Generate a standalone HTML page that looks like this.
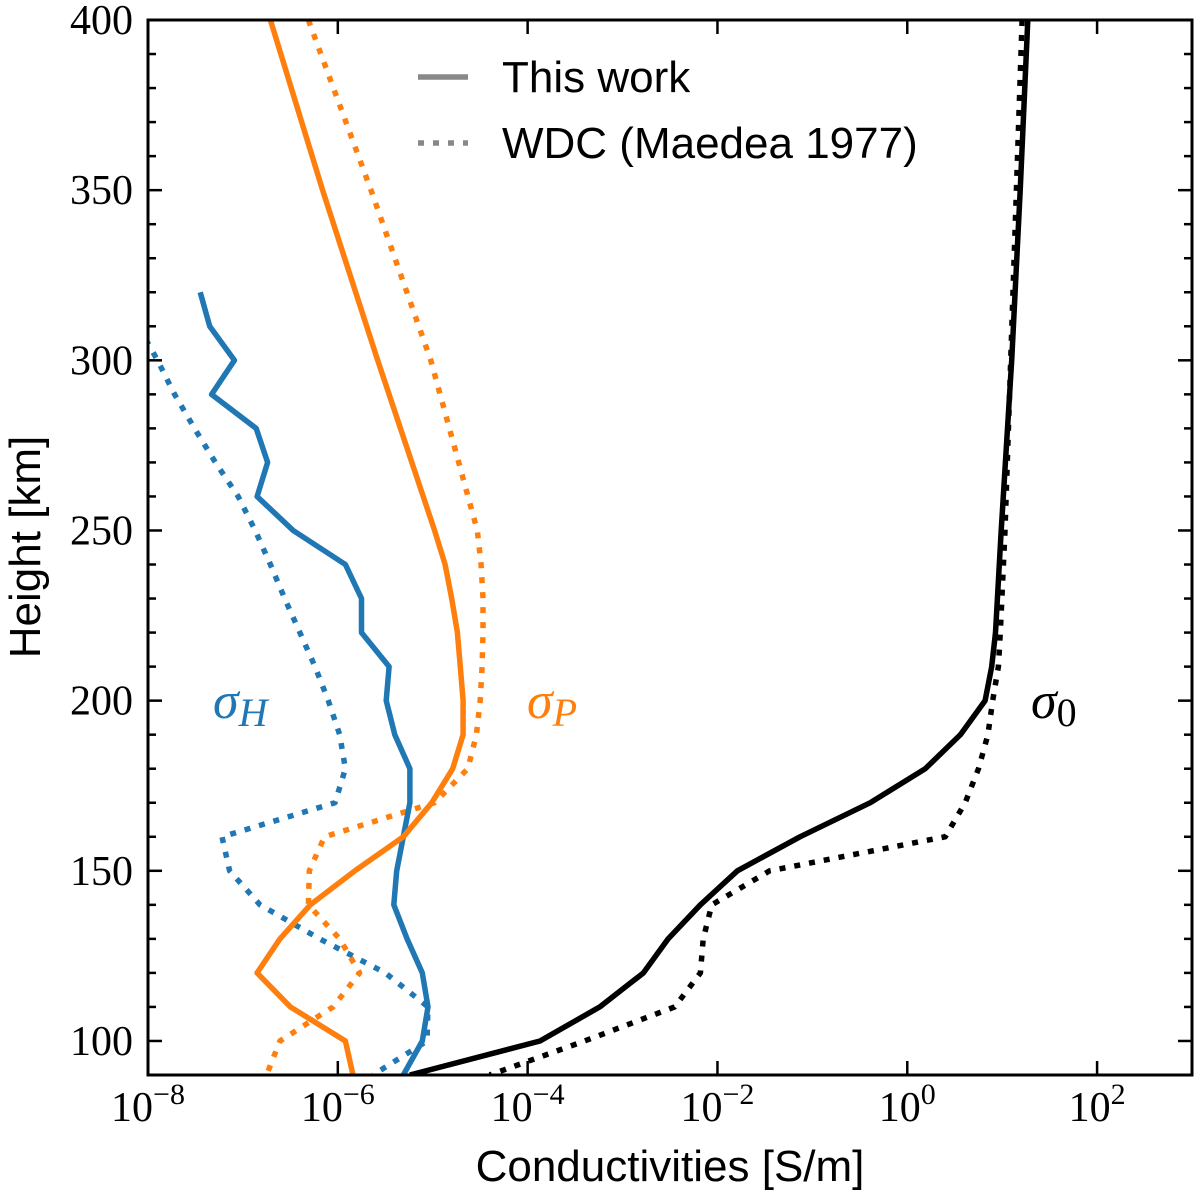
<!DOCTYPE html>
<html><head><meta charset="utf-8"><style>
html,body{margin:0;padding:0;background:#fff;}
svg{display:block;}
.tk{font-family:"Liberation Serif",serif;font-size:42px;fill:#000;}
.lab{font-family:"Liberation Sans",sans-serif;font-size:44px;fill:#000;}
</style></head><body>
<svg id="chart" width="1200" height="1196" viewBox="0 0 1200 1196">
<defs><clipPath id="clip"><rect x="148" y="20" width="1044" height="1055"/></clipPath></defs>
<g id="plot" clip-path="url(#clip)"></g>
<rect x="148" y="20" width="1044" height="1055" fill="none" stroke="#000" stroke-width="3"/>
<g id="ticks"></g>
<text class="lab" x="40" y="547" text-anchor="middle" transform="rotate(-90 40 547)">Height [km]</text>
<text class="lab" x="670" y="1181" text-anchor="middle">Conductivities [S/m]</text>
<g>
<line x1="418" y1="77" x2="468" y2="77" stroke="#888" stroke-width="5.5"/>
<text class="lab" x="502" y="92" font-size="44">This work</text>
<line x1="418" y1="143" x2="468" y2="143" stroke="#888" stroke-width="5.5" stroke-dasharray="6 9"/>
<text class="lab" x="502" y="158" font-size="44">WDC (Maedea 1977)</text>
</g>
<text x="213" y="718" font-family="Liberation Serif,serif" font-style="italic" font-size="52" fill="#1f77b4">σ<tspan font-size="40" dy="8">H</tspan></text>
<text x="527" y="718" font-family="Liberation Serif,serif" font-style="italic" font-size="52" fill="#ff7f0e">σ<tspan font-size="40" dy="8">P</tspan></text>
<text x="1031" y="718" font-family="Liberation Serif,serif" font-size="52" fill="#000"><tspan font-style="italic">σ</tspan><tspan font-size="40" dy="8">0</tspan></text>
</svg>
<script>
// log10 of conductivity [S/m] by height [km]
const hH = [320,310,300,290,280,270,260,250,240,230,220,210,200,190,180,170,160,150,140,130,120,110,100,90];
const logSigmaH = [-7.45,-7.35,-7.09,-7.33,-6.86,-6.74,-6.85,-6.47,-5.92,-5.75,-5.75,-5.46,-5.49,-5.40,-5.24,-5.24,-5.31,-5.38,-5.41,-5.27,-5.11,-5.05,-5.11,-5.31];
const hHwdc = [310,300,290,280,270,260,250,240,230,220,210,200,190,180,170,160,150,140,130,120,110,100,90];
const logSigmaHwdc = [-8.1,-7.90,-7.72,-7.51,-7.29,-7.05,-6.87,-6.71,-6.56,-6.40,-6.24,-6.10,-5.98,-5.92,-6.03,-7.22,-7.14,-6.82,-6.19,-5.50,-5.05,-5.06,-5.63];
const hP = [400,350,300,250,240,230,220,210,200,190,180,170,160,150,140,130,120,110,100,90];
const logSigmaP = [-6.71,-6.16,-5.58,-4.98,-4.87,-4.80,-4.74,-4.71,-4.68,-4.68,-4.79,-5.01,-5.31,-5.82,-6.29,-6.61,-6.85,-6.50,-5.92,-5.84];
const logSigmaPwdc = [-6.31,-5.65,-5.02,-4.53,-4.49,-4.47,-4.47,-4.48,-4.50,-4.54,-4.63,-4.98,-6.14,-6.30,-6.31,-5.98,-5.77,-6.05,-6.61,-6.75];
const h0 = [400,350,300,250,220,210,200,190,180,170,160,150,140,130,120,110,100,90];
const logSigma0 = [1.27,1.19,1.10,0.99,0.93,0.89,0.82,0.56,0.19,-0.39,-1.13,-1.79,-2.18,-2.52,-2.78,-3.24,-3.87,-5.24];
const logSigma0wdc = [1.21,1.15,1.09,1.03,0.98,0.96,0.90,0.85,0.75,0.61,0.40,-1.45,-2.06,-2.15,-2.18,-2.45,-3.40,-4.40];
const xTickExps = [-8,-6,-4,-2,0,2];
const yTicks = [100,150,200,250,300,350,400];

const NS="http://www.w3.org/2000/svg";
const X0=148,X1=1192,Y0=1075,Y1=20, LMIN=-8,LMAX=3,HMIN=90,HMAX=400;
function xs(l){return X0+(l-LMIN)/(LMAX-LMIN)*(X1-X0);}
function ys(h){return Y0-(h-HMIN)/(HMAX-HMIN)*(Y0-Y1);}
const plot=document.getElementById('plot'), ticks=document.getElementById('ticks');
function series(hs,ls,color,dotted,name){
  const p=document.createElementNS(NS,'polyline');
  p.setAttribute('points',hs.map((h,i)=>xs(ls[i]).toFixed(1)+','+ys(h).toFixed(1)).join(' '));
  p.setAttribute('fill','none');p.setAttribute('stroke',color);p.setAttribute('stroke-width','5.5');
  p.setAttribute('stroke-linejoin','round');
  if(dotted)p.setAttribute('stroke-dasharray','6 9');
  
  
  plot.appendChild(p);
}
series(hHwdc,logSigmaHwdc,'#1f77b4',true,'sigma-h-wdc-line');
series(hP,logSigmaPwdc,'#ff7f0e',true,'sigma-p-wdc-line');
series(h0,logSigma0wdc,'#000',true,'sigma-0-wdc-line');
series(hH,logSigmaH,'#1f77b4',false,'sigma-h-line');
series(hP,logSigmaP,'#ff7f0e',false,'sigma-p-line');
series(h0,logSigma0,'#000',false,'sigma-0-line');
function line(x1,y1,x2,y2,w){const l=document.createElementNS(NS,'line');
  l.setAttribute('x1',x1);l.setAttribute('y1',y1);l.setAttribute('x2',x2);l.setAttribute('y2',y2);
  l.setAttribute('stroke','#000');l.setAttribute('stroke-width',w);
  
  
  ticks.appendChild(l);}
for(let h=HMIN;h<=HMAX;h+=10){const y=ys(h);const maj=h%50===0;const L=maj?14:8;
  line(X0,y,X0+L,y,2.5);line(X1-L,y,X1,y,2.5);}
xTickExps.forEach(e=>{const x=xs(e);line(x,Y0,x,Y0-14,2.5);line(x,Y1,x,Y1+14,2.5);
  const t=document.createElementNS(NS,'text');t.setAttribute('class','tk');t.setAttribute('x',x);t.setAttribute('y',1121);t.setAttribute('text-anchor','middle');
  t.innerHTML='10<tspan font-size="30" dy="-17">'+(e<0?'\u2212'+(-e):e)+'</tspan>';
  
  
  ticks.appendChild(t);});
yTicks.forEach(h=>{const t=document.createElementNS(NS,'text');t.setAttribute('class','tk');t.setAttribute('x',133);t.setAttribute('y',ys(h)+14);t.setAttribute('text-anchor','end');t.textContent=h;
  
  
  ticks.appendChild(t);});
</script>
</body></html>
